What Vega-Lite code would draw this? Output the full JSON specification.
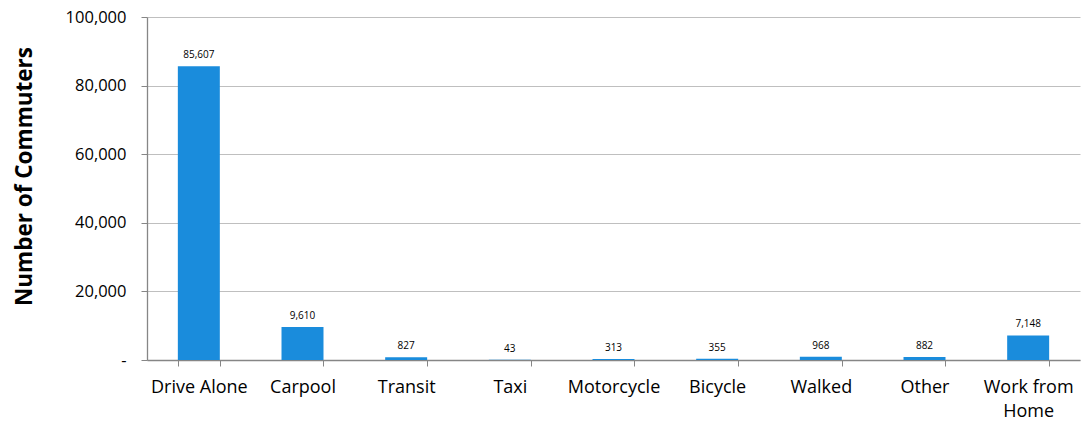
{
  "$schema": "https://vega.github.io/schema/vega-lite/v6.json",
  "autosize": "none",
  "width": 933,
  "height": 343,
  "padding": {"left": 147, "top": 17, "right": 1, "bottom": 64},
  "background": "white",
  "config": {
    "view": {"stroke": null},
    "font": "Open Sans"
  },
  "data": {
    "values": [
      {"mode": "Drive Alone", "commuters": 85607},
      {"mode": "Carpool", "commuters": 9610},
      {"mode": "Transit", "commuters": 827},
      {"mode": "Taxi", "commuters": 43},
      {"mode": "Motorcycle", "commuters": 313},
      {"mode": "Bicycle", "commuters": 355},
      {"mode": "Walked", "commuters": 968},
      {"mode": "Other", "commuters": 882},
      {"mode": "Work from Home", "commuters": 7148}
    ]
  },
  "encoding": {
    "x": {
      "field": "mode",
      "type": "nominal",
      "sort": null,
      "scale": {"paddingInner": 0.595, "paddingOuter": 0.2975},
      "axis": {
        "title": null,
        "labelAngle": 0,
        "labelFont": "Open Sans",
        "labelFontSize": 18,
        "labelColor": "#000000",
        "labelPadding": 12,
        "labelLimit": 200,
        "labelLineHeight": 24,
        "labelExpr": "datum.value == 'Work from Home' ? ['Work from', 'Home'] : datum.value",
        "tickBand": "extent",
        "tickSize": 6,
        "tickColor": "#868686",
        "domainColor": "#868686",
        "domainWidth": 1.3,
        "grid": false
      }
    },
    "y": {
      "field": "commuters",
      "type": "quantitative",
      "scale": {"domain": [0, 100000], "nice": false},
      "axis": {
        "title": "Number of Commuters",
        "titleFont": "Open Sans",
        "titleFontSize": 22.5,
        "titleFontWeight": "bold",
        "titleColor": "#000000",
        "titleX": -116,
        "titleY": 159,
        "titleBaseline": "alphabetic",
        "titleAngle": 270,
        "values": [0, 20000, 40000, 60000, 80000, 100000],
        "labelExpr": "datum.value == 0 ? '-' : format(datum.value, ',')",
        "labelFont": "Open Sans",
        "labelFontSize": 16.5,
        "labelColor": "#000000",
        "labelPadding": 15,
        "tickSize": 6,
        "tickColor": "#868686",
        "domainColor": "#868686",
        "domainWidth": 1.3,
        "grid": true,
        "gridColor": "#bfbfbf",
        "gridWidth": 1.2
      }
    }
  },
  "layer": [
    {
      "mark": {"type": "bar", "color": "#1a8cdc"}
    },
    {
      "mark": {"type": "text", "baseline": "alphabetic", "dy": -8, "fontSize": 10, "font": "Open Sans", "color": "#000000"},
      "encoding": {
        "text": {"field": "commuters", "type": "quantitative", "format": ","}
      }
    }
  ]
}
